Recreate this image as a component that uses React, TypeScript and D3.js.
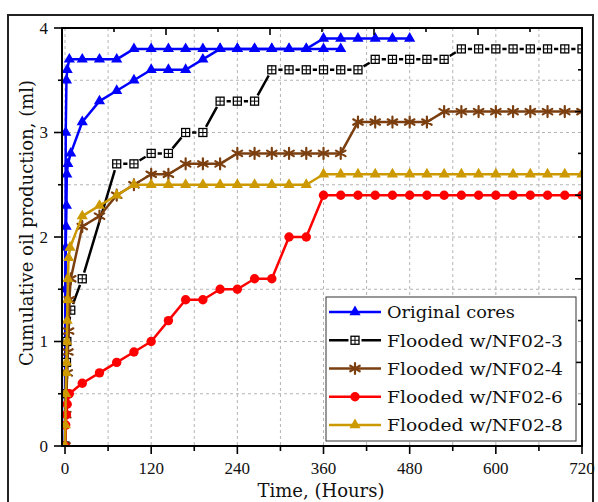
import React from "react";
import * as d3 from "d3";

// ---------- data (hours, ml) ----------
const originalCoreATime = [0, 1, 2, 3, 6, 24, 48, 72, 96, 120, 144, 168, 192, 216, 240, 264, 288, 312, 336, 360, 384, 408, 432, 456, 480];
const originalCoreAValue = [0, 3.0, 3.5, 3.6, 3.7, 3.7, 3.7, 3.7, 3.8, 3.8, 3.8, 3.8, 3.8, 3.8, 3.8, 3.8, 3.8, 3.8, 3.8, 3.9, 3.9, 3.9, 3.9, 3.9, 3.9];

const originalCoreBTime = [0, 0.5, 1, 1.5, 2, 2.5, 4, 8, 24, 48, 72, 96, 120, 144, 168, 192, 216, 240, 264, 288, 312, 336, 360, 384];
const originalCoreBValue = [0, 1.5, 1.9, 2.1, 2.3, 2.6, 2.7, 2.8, 3.1, 3.3, 3.4, 3.5, 3.6, 3.6, 3.6, 3.7, 3.8, 3.8, 3.8, 3.8, 3.8, 3.8, 3.8, 3.8];

const nf023Time = [0, 1, 2, 2.5, 8, 24, 72, 96, 120, 144, 168, 192, 216, 240, 264, 288, 312, 336, 360, 384, 408, 432, 456, 480, 504, 528, 552, 576, 600, 624, 648, 672, 696, 720];
const nf023Value = [0, 0.5, 0.8, 1.0, 1.3, 1.6, 2.7, 2.7, 2.8, 2.8, 3.0, 3.0, 3.3, 3.3, 3.3, 3.6, 3.6, 3.6, 3.6, 3.6, 3.6, 3.7, 3.7, 3.7, 3.7, 3.7, 3.8, 3.8, 3.8, 3.8, 3.8, 3.8, 3.8, 3.8];

const nf024Time = [0, 1, 2, 3, 4, 5, 6, 8, 24, 48, 72, 96, 120, 144, 168, 192, 216, 240, 264, 288, 312, 336, 360, 384, 408, 432, 456, 480, 504, 528, 552, 576, 600, 624, 648, 672, 696, 720];
const nf024Value = [0, 0.3, 0.5, 0.7, 0.9, 1.1, 1.4, 1.6, 2.1, 2.2, 2.4, 2.5, 2.6, 2.6, 2.7, 2.7, 2.7, 2.8, 2.8, 2.8, 2.8, 2.8, 2.8, 2.8, 3.1, 3.1, 3.1, 3.1, 3.1, 3.2, 3.2, 3.2, 3.2, 3.2, 3.2, 3.2, 3.2, 3.2];

const nf026Time = [0, 1, 2, 3, 6, 24, 48, 72, 96, 120, 144, 168, 192, 216, 240, 264, 288, 312, 336, 360, 384, 408, 432, 456, 480, 504, 528, 552, 576, 600, 624, 648, 672, 696, 720];
const nf026Value = [0, 0.2, 0.3, 0.4, 0.5, 0.6, 0.7, 0.8, 0.9, 1.0, 1.2, 1.4, 1.4, 1.5, 1.5, 1.6, 1.6, 2.0, 2.0, 2.4, 2.4, 2.4, 2.4, 2.4, 2.4, 2.4, 2.4, 2.4, 2.4, 2.4, 2.4, 2.4, 2.4, 2.4, 2.4];

const nf028Time = [0, 0.5, 1, 1.5, 2, 2.5, 3, 3.5, 4, 5, 7, 24, 48, 72, 96, 120, 144, 168, 192, 216, 240, 264, 288, 312, 336, 360, 384, 408, 432, 456, 480, 504, 528, 552, 576, 600, 624, 648, 672, 696, 720];
const nf028Value = [0, 0.2, 0.5, 0.7, 0.8, 1.0, 1.2, 1.4, 1.6, 1.8, 1.9, 2.2, 2.3, 2.4, 2.5, 2.5, 2.5, 2.5, 2.5, 2.5, 2.5, 2.5, 2.5, 2.5, 2.5, 2.6, 2.6, 2.6, 2.6, 2.6, 2.6, 2.6, 2.6, 2.6, 2.6, 2.6, 2.6, 2.6, 2.6, 2.6, 2.6];

const legendLabels = ["Original cores", "Flooded w/NF02-3", "Flooded w/NF02-4", "Flooded w/NF02-6", "Flooded w/NF02-8"];
const xMajorTicks = [0, 120, 240, 360, 480, 600, 720];
const xMinorTicks = [60, 180, 300, 420, 540, 660];
const xGrid = [0, 60, 120, 180, 240, 300, 360, 420, 480, 540, 600, 660];
const yMajorTicks = [0, 1, 2, 3, 4];
const yMinorTicks = [0.5, 1.5, 2.5, 3.5];
const yGrid = [0.5, 1, 1.5, 2, 2.5, 3, 3.5];

const textFont = "'DejaVu Serif', serif";
const numFont = "'Liberation Serif', 'Times New Roman', serif";

type Kind = "triangle" | "square" | "asterisk" | "circle";

const triPath = d3.symbol(d3.symbolTriangle, 54)() as string;
const astR = 5.5;
const astPath = [90, 30, 150]
  .map((a) => {
    const r = (a * Math.PI) / 180;
    const dx = astR * Math.cos(r), dy = astR * Math.sin(r);
    return `M${-dx},${-dy}L${dx},${dy}`;
  })
  .join("");

function Marker({ kind, cx, cy, color }: { kind: Kind; cx: number; cy: number; color: string }) {
  const t = `translate(${cx},${cy})`;
  if (kind === "triangle") return <path d={triPath} transform={t} fill={color} />;
  if (kind === "circle") return <circle cx={cx} cy={cy} r={4.7} fill={color} />;
  if (kind === "asterisk")
    return <path d={astPath} transform={t} stroke={color} strokeWidth={2.2} strokeLinecap="round" fill="none" />;
  return (
    <g transform={t}>
      <rect x={-4} y={-4} width={8} height={8} fill="#fff" stroke="#000" strokeWidth={1.3} />
      <path d="M-4,0H4M0,-4V4" stroke="#000" strokeWidth={1} />
    </g>
  );
}

export default function App() {
  const L = 62, R = 582, T = 28, B = 446;
  const x = d3.scaleLinear().domain([-4.2, 720]).range([L, R]);
  const y = d3.scaleLinear().domain([0, 4]).range([B, T]);
  const line = d3.line<[number, number]>().x((d) => x(d[0])).y((d) => y(d[1]));

  const zip = (ts: number[], vs: number[]) => ts.map((t, i) => [t, vs[i]] as [number, number]);

  const series = [
    { pts: zip(originalCoreATime, originalCoreAValue), color: "#0000FF", kind: "triangle" as Kind, gap: 0 },
    { pts: zip(originalCoreBTime, originalCoreBValue), color: "#0000FF", kind: "triangle" as Kind, gap: 0 },
    { pts: zip(nf023Time, nf023Value), color: "#000000", kind: "square" as Kind, gap: 6.5 },
    { pts: zip(nf024Time, nf024Value), color: "#7B3F10", kind: "asterisk" as Kind, gap: 0 },
    { pts: zip(nf026Time, nf026Value), color: "#FF0000", kind: "circle" as Kind, gap: 0 },
    { pts: zip(nf028Time, nf028Value), color: "#CC9900", kind: "triangle" as Kind, gap: 0 },
  ];
  const legendSeries = [series[0], series[2], series[3], series[4], series[5]];

  const gappedSegments = (pts: [number, number][], gap: number) => {
    const segs: string[] = [];
    for (let i = 0; i < pts.length - 1; i++) {
      const x0 = x(pts[i][0]), y0 = y(pts[i][1]);
      const x1 = x(pts[i + 1][0]), y1 = y(pts[i + 1][1]);
      const d = Math.hypot(x1 - x0, y1 - y0);
      if (d <= 2 * gap) continue;
      const ux = (x1 - x0) / d, uy = (y1 - y0) / d;
      segs.push(`M${x0 + ux * gap},${y0 + uy * gap}L${x1 - ux * gap},${y1 - uy * gap}`);
    }
    return segs.join("");
  };

  const topScale = d3.scaleLinear().domain([0, 10]).range([L, R]);
  const rightScale = d3.scaleLinear().domain([0, 10]).range([B, T]);
  const divisions = d3.range(1, 10);

  const legX = 326, legY = 297, legW = 250, legH = 144;
  const rowY = d3.scaleLinear().domain([0, 4]).range([312, 425]);

  return (
    <svg width={598} height={502} style={{ position: "absolute", left: 0, top: 0, background: "#fff" }}>
      <defs>
        <clipPath id="plotClip">
          <rect x={L} y={T} width={R - L} height={B - T} />
        </clipPath>
      </defs>
      {/* outer frame */}
      <rect x={8} y={15} width={585} height={500} fill="none" stroke="#222" strokeWidth={2} />

      {/* grid */}
      <g stroke="#b4b4b4" strokeWidth={1} strokeDasharray="3,3">
        {xGrid.map((g) => (
          <line key={"gx" + g} x1={x(g)} x2={x(g)} y1={T} y2={B} />
        ))}
        {yGrid.map((g) => (
          <line key={"gy" + g} x1={L} x2={R} y1={y(g)} y2={y(g)} />
        ))}
      </g>

      {/* series */}
      <g clipPath="url(#plotClip)">
        {series.map((s, i) => (
          <g key={"s" + i}>
            {s.gap > 0 ? (
              <path d={gappedSegments(s.pts, s.gap)} stroke={s.color} strokeWidth={2.5} fill="none" />
            ) : (
              <path d={line(s.pts) as string} stroke={s.color} strokeWidth={2.5} fill="none" strokeLinejoin="round" />
            )}
            {s.pts.map((p, j) => (
              <Marker key={j} kind={s.kind} cx={x(p[0])} cy={y(p[1])} color={s.color} />
            ))}
          </g>
        ))}
      </g>

      {/* axes frame */}
      <g stroke="#000" strokeWidth={2} fill="none">
        <line x1={L} x2={L} y1={T - 1} y2={B + 1} />
        <line x1={L - 1} x2={R + 1} y1={B} y2={B} />
        <line x1={L - 1} x2={R + 1} y1={T} y2={T} />
        <line x1={R} x2={R} y1={T - 1} y2={B + 1} />
      </g>

      {/* ticks */}
      <g stroke="#000" strokeWidth={1.6}>
        {xMajorTicks.map((t) => (
          <line key={"bx" + t} x1={x(t)} x2={x(t)} y1={B} y2={B + 8} />
        ))}
        {xMinorTicks.map((t) => (
          <line key={"bm" + t} x1={x(t)} x2={x(t)} y1={B} y2={B + 5} />
        ))}
        {yMajorTicks.map((t) => (
          <line key={"ly" + t} x1={L - 8} x2={L} y1={y(t)} y2={y(t)} />
        ))}
        {yMinorTicks.map((t) => (
          <line key={"lm" + t} x1={L - 4} x2={L} y1={y(t)} y2={y(t)} />
        ))}
        {divisions.map((k) => (
          <line key={"tt" + k} x1={topScale(k)} x2={topScale(k)} y1={T} y2={T + (k % 2 === 0 ? 7 : 4)} />
        ))}
        {divisions.map((k) => (
          <line key={"rt" + k} x1={R - (k % 2 === 0 ? 7 : 4)} x2={R} y1={rightScale(k)} y2={rightScale(k)} />
        ))}
      </g>

      {/* tick labels */}
      <g fontFamily={numFont} fontSize={17} fill="#111">
        {xMajorTicks.map((t) => (
          <text key={"xl" + t} x={x(t)} y={474} textAnchor="middle">
            {t}
          </text>
        ))}
        {yMajorTicks.map((t) => (
          <text key={"yl" + t} x={48} y={y(t) + 5.8} textAnchor="end">
            {t}
          </text>
        ))}
      </g>

      {/* axis titles */}
      <text x={321} y={497} textAnchor="middle" fontFamily={textFont} fontSize={18} fill="#111">
        Time, (Hours)
      </text>
      <text
        transform={`translate(33,223) rotate(-90)`}
        textAnchor="middle"
        fontFamily={textFont}
        fontSize={18}
        fill="#111"
      >
        Cumulative oil production, (ml)
      </text>

      {/* legend */}
      <rect x={legX} y={legY} width={legW} height={legH} fill="#fff" stroke="#333" strokeWidth={1} />
      {legendSeries.map((s, i) => {
        const cy = rowY(i);
        return (
          <g key={"lg" + i}>
            {s.gap > 0 ? (
              <path d={`M329,${cy}L${355 - s.gap},${cy}M${355 + s.gap},${cy}L381,${cy}`} stroke={s.color} strokeWidth={2.5} />
            ) : (
              <line x1={329} x2={381} y1={cy} y2={cy} stroke={s.color} strokeWidth={2.5} />
            )}
            <Marker kind={s.kind} cx={355} cy={cy} color={s.color} />
            <text
              x={387}
              y={cy + 6.3}
              fontFamily={textFont}
              fontSize={17.5}
              fill="#111"
              textLength={i === 0 ? 128 : 176}
              lengthAdjust="spacingAndGlyphs"
            >
              {legendLabels[i]}
            </text>
          </g>
        );
      })}
    </svg>
  );
}
